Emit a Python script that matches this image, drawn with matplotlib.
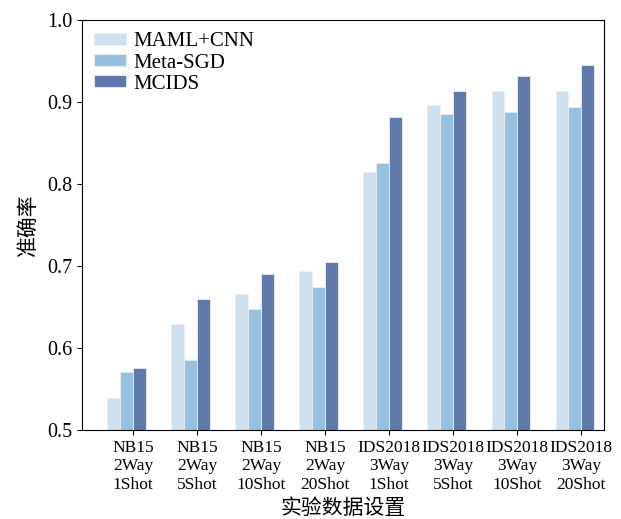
import numpy as np
import matplotlib.pyplot as plt

plt.rcParams['font.family'] = ['Liberation Serif', 'Noto Sans CJK SC']
plt.rcParams['mathtext.fontset'] = 'stix'

# data
groups = ["NB15\n2Way\n1Shot", "NB15\n2Way\n5Shot", "NB15\n2Way\n10Shot", "NB15\n2Way\n20Shot",
          "IDS2018\n3Way\n1Shot", "IDS2018\n3Way\n5Shot", "IDS2018\n3Way\n10Shot", "IDS2018\n3Way\n20Shot"]
maml_cnn = [0.539, 0.629, 0.666, 0.694, 0.815, 0.896, 0.913, 0.913]
meta_sgd = [0.571, 0.585, 0.647, 0.674, 0.826, 0.885, 0.888, 0.894]
mcids = [0.576, 0.660, 0.690, 0.705, 0.882, 0.914, 0.932, 0.945]

series = [("MAML+CNN", maml_cnn, '#cfe1ee'),
          ("Meta-SGD", meta_sgd, '#96c0e0'),
          ("MCIDS", mcids, '#5f79ab')]

fig = plt.figure(figsize=(6.21, 5.19), dpi=100)
ax = fig.add_axes([0.132, 0.1715, 0.841, 0.79])

x = np.arange(len(groups))
w = 0.2
for i, (name, vals, color) in enumerate(series):
    ax.bar(x + (i - 1) * w, vals, width=w, color=color, edgecolor='#e8eef5',
           linewidth=0.6, label=name)

ax.set_ylim(0.5, 1.0)
ax.set_xlim(-0.695, 7.46)
ax.set_yticks(np.arange(0.5, 1.01, 0.1))
ax.set_yticklabels([f"{v:.1f}" for v in np.arange(0.5, 1.01, 0.1)], fontsize=14.5)
ax.set_xticks(x + w / 2)
ax.set_xticklabels(groups, fontsize=12.5, linespacing=1.2)

ax.set_xlabel("实验数据设置", fontsize=15, family=['Noto Sans CJK SC'], labelpad=3)
ax.set_ylabel("准确率", fontsize=15, family=['Noto Sans CJK SC'], labelpad=6)

ax.legend(loc='upper left', frameon=False, fontsize=15, handlelength=1.5,
          handleheight=0.5, labelspacing=0.1, handletextpad=0.35,
          borderaxespad=0.3, borderpad=0.3)

fig.savefig("out.png", dpi=100)
